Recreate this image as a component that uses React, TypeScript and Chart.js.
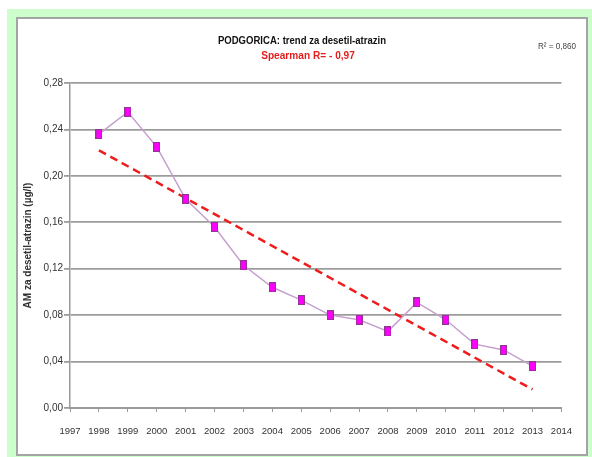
import React, { useEffect, useRef } from "react";
import { Chart, registerables } from "chart.js";

Chart.register(...registerables);

const years = [1998, 1999, 2000, 2001, 2002, 2003, 2004, 2005, 2006, 2007, 2008, 2009, 2010, 2011, 2012, 2013];
const values = [0.236, 0.255, 0.225, 0.18, 0.156, 0.123, 0.104, 0.093, 0.08, 0.076, 0.066, 0.091, 0.076, 0.055, 0.05, 0.036];
const trendYears = [1998, 2013];
const trendValues = [0.222, 0.016];
const xTicks = [1997, 1998, 1999, 2000, 2001, 2002, 2003, 2004, 2005, 2006, 2007, 2008, 2009, 2010, 2011, 2012, 2013, 2014];
const yTicks = [0, 0.04, 0.08, 0.12, 0.16, 0.2, 0.24, 0.28];

const titleText = "PODGORICA: trend za desetil-atrazin";
const subtitleText = "Spearman R= - 0,97";
const r2Text = "R² = 0,860";
const yTitle = "AM za desetil-atrazin (µg/l)";

const NARROW = '"Liberation Sans Narrow", "Liberation Sans", Arial, sans-serif';
const SANS = '"Liberation Sans", Arial, sans-serif';

function makeMarker() {
  const c = document.createElement("canvas");
  c.width = 7;
  c.height = 10;
  const ctx = c.getContext("2d")!;
  ctx.fillStyle = "#ff00ff";
  ctx.fillRect(0, 0, 7, 10);
  ctx.strokeStyle = "#8a3a8a";
  ctx.lineWidth = 1;
  ctx.strokeRect(0.5, 0.5, 6, 9);
  return c;
}

export default function App() {
  const ref = useRef<HTMLCanvasElement | null>(null);

  useEffect(() => {
    if (!ref.current) return;
    const marker = makeMarker();
    const chart = new Chart(ref.current, {
      type: "line",
      data: {
        datasets: [
          {
            label: "AM",
            data: years.map((y, i) => ({ x: y, y: values[i] })),
            borderColor: "#c4a0cc",
            borderWidth: 1.5,
            pointStyle: marker as any,
            pointRadius: 4,
            tension: 0,
          },
          {
            label: "trend",
            data: trendYears.map((y, i) => ({ x: y, y: trendValues[i] })),
            borderColor: "#ee1c1c",
            borderWidth: 2.5,
            borderDash: [8, 5],
            pointRadius: 0,
            tension: 0,
          },
        ],
      },
      options: {
        responsive: false,
        animation: false,
        devicePixelRatio: 1,
        layout: { padding: { left: 0, right: 22, top: 64, bottom: 0 } },
        plugins: {
          legend: { display: false },
          tooltip: { enabled: false },
          title: { display: false },
        },
        scales: {
          x: {
            type: "linear",
            min: 1997,
            max: 2014,
            afterBuildTicks: (s: any) => {
              s.ticks = xTicks.map((v) => ({ value: v }));
            },
            afterFit: (s: any) => {
              s.height = 46;
            },
            ticks: {
              autoSkip: false,
              maxRotation: 0,
              padding: 14,
              color: "#333",
              font: { family: NARROW, size: 9.5 },
              callback: (v: any) => String(v),
            },
            grid: {
              drawOnChartArea: false,
              drawTicks: true,
              tickLength: 4,
              color: "#9a9a9a",
              lineWidth: 1,
            },
            border: { display: true, color: "#9a9a9a", width: 2 },
          },
          y: {
            type: "linear",
            min: 0,
            max: 0.28,
            afterBuildTicks: (s: any) => {
              s.ticks = yTicks.map((v) => ({ value: v }));
            },
            afterFit: (s: any) => {
              s.width = 52;
            },
            ticks: {
              padding: 1,
              color: "#333",
              font: { family: NARROW, size: 10 },
              callback: (v: any) => Number(v).toFixed(2).replace(".", ","),
            },
            grid: {
              color: "#9c9c9c",
              lineWidth: 1.8,
              tickLength: 6,
            },
            border: { display: true, color: "#9a9a9a", width: 1.5 },
            title: {
              display: true,
              text: yTitle,
              color: "#333",
              font: { family: SANS, size: 10, weight: "bold" },
              padding: { top: 4, bottom: 0 },
            },
          },
        },
      },
    });
    return () => chart.destroy();
  }, []);

  const abs = (x: number, y: number, sx: number, extra: React.CSSProperties): React.CSSProperties => ({
    position: "absolute",
    left: x,
    top: y,
    transform: `translate(-50%, -50%) scaleX(${sx})`,
    whiteSpace: "nowrap",
    lineHeight: 1,
    ...extra,
  });

  return (
    <div style={{ position: "fixed", left: 0, top: 0, width: 592, height: 457, background: "#fff", overflow: "hidden" }}>
      <div style={{ position: "absolute", left: 7, top: 9, width: 585, height: 448, background: "#ccffcc" }} />
      <div
        style={{
          position: "absolute",
          left: 16,
          top: 17,
          width: 572,
          height: 439,
          boxSizing: "border-box",
          background: "#fff",
          border: "2px solid #a4a4a4",
        }}
      />
      <canvas ref={ref} width={568} height={435} style={{ position: "absolute", left: 18, top: 19, width: 568, height: 435 }} />
      <div style={abs(301.5, 41, 0.83, { fontFamily: NARROW, fontWeight: "bold", fontSize: 11.5, color: "#111" })}>{titleText}</div>
      <div style={abs(308, 56, 0.88, { fontFamily: NARROW, fontWeight: "bold", fontSize: 11.5, color: "#e41e1e" })}>{subtitleText}</div>
      <div style={abs(557, 46, 0.9, { fontFamily: NARROW, fontSize: 9, color: "#444" })}>{r2Text}</div>
    </div>
  );
}
